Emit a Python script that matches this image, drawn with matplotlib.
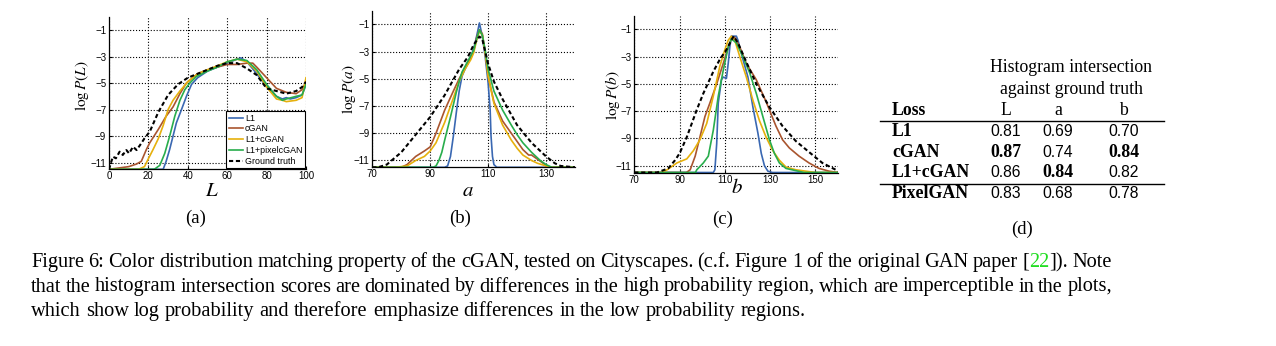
import matplotlib
matplotlib.use("Agg")
import matplotlib.pyplot as plt
from matplotlib.lines import Line2D

W, H = 1276, 346

plt.rcParams["mathtext.fontset"] = "stix"
plt.rcParams["font.family"] = "Liberation Sans"

barve = {
    "L1":           "#3a68b2",
    "cGAN":         "#a9552f",
    "L1+cGAN":      "#e6b00c",
    "L1+pixelcGAN": "#28ad4c",
    "Ground truth": "black",
}

# (a) L channel
L_l1_x = [0, 27.5, 29, 30.8, 32.5, 34.2, 36.8, 39.3, 41.9, 45, 50, 55, 60, 65, 67, 70, 75, 80, 85, 88, 90, 92, 95, 98, 100]
L_l1_y = [-11.5, -11.5, -10.9, -10.0, -9.0, -8.0, -7.0, -6.0, -5.1, -4.6, -4.1, -3.8, -3.5, -3.2, -3.1, -3.4, -4.3, -5.3, -6.0, -6.2, -6.1, -6.2, -6.1, -5.9, -5.1]
L_cgan_x = [0, 10, 14, 16.4, 19, 20.7, 25, 29, 32.5, 36, 39.3, 45, 50, 55, 60, 65, 70, 73, 75, 80, 85, 90, 95, 98, 100]
L_cgan_y = [-11.5, -11.3, -11.1, -10.9, -10.0, -9.5, -8.5, -7.5, -6.8, -5.8, -5.0, -4.3, -4.0, -3.8, -3.6, -3.6, -3.5, -3.5, -3.8, -4.6, -5.4, -5.7, -5.8, -5.5, -4.9]
L_l1cgan_x = [0, 15, 18, 20, 22.4, 25, 27.5, 30, 32.5, 36, 40, 45, 50, 55, 60, 65, 70, 75, 80, 85, 88, 90, 95, 98, 100]
L_l1cgan_y = [-11.5, -11.5, -11.3, -10.7, -10.0, -9.2, -8.2, -7.0, -6.3, -5.6, -4.9, -4.3, -4.0, -3.7, -3.4, -3.2, -3.4, -4.1, -5.3, -6.2, -6.3, -6.4, -6.3, -6.1, -4.6]
L_pix_x = [0, 23, 25.8, 28.3, 30.8, 33.4, 36, 38.5, 41, 44.4, 50, 55, 60, 65, 70, 75, 80, 85, 88, 90, 95, 98, 100]
L_pix_y = [-11.5, -11.5, -11.2, -10.3, -9.0, -7.5, -6.3, -5.5, -5.0, -4.5, -4.1, -3.8, -3.4, -3.2, -3.3, -4.0, -5.1, -6.0, -6.3, -6.2, -6.0, -5.9, -5.1]
L_gt_x = [0, 1, 2, 3.5, 5.4, 7, 8.8, 10.2, 12.2, 14, 16.4, 18, 20.7, 25, 30, 35, 40, 45, 50, 55, 60, 65, 70, 75, 80, 85, 90, 95, 98, 100]
L_gt_y = [-11.5, -11.0, -10.55, -10.67, -10.17, -10.42, -10.05, -10.3, -9.8, -10.05, -9.54, -9.17, -8.66, -7.2, -5.9, -5.1, -4.6, -4.3, -4.0, -3.7, -3.5, -3.5, -3.9, -4.4, -5.4, -5.6, -5.8, -5.6, -5.3, -4.9]

# (b) a channel
a_l1_x = [70, 95, 96, 97, 98, 99, 100, 101, 102, 103, 104, 105, 106, 107, 108, 109, 110, 110.7, 111, 111.5, 112, 113, 140]
a_l1_y = [-11.5, -11.5, -11.4, -10.7, -9.2, -7.5, -5.9, -4.8, -4.3, -3.9, -3.4, -2.8, -1.9, -0.9, -1.9, -3.4, -5.3, -7.3, -9.2, -10.7, -11.3, -11.5, -11.5]
a_cgan_x = [70, 80, 82, 85, 88, 90, 92, 95, 98, 100, 102, 104, 105, 106, 107, 108, 109, 110, 112, 115, 118, 120, 122, 124, 125, 127, 129, 130, 132, 140]
a_cgan_y = [-11.5, -11.5, -11.3, -10.7, -10.3, -10.0, -9.0, -7.3, -5.9, -5.0, -4.2, -3.4, -3.0, -2.0, -1.4, -1.7, -3.1, -4.8, -6.7, -8.1, -9.0, -9.6, -10.2, -10.6, -10.6, -10.9, -11.2, -11.4, -11.5, -11.5]
a_l1cgan_x = [70, 78, 82, 85, 88, 90, 92, 95, 98, 100, 102, 104, 105, 106, 107, 108, 109, 110, 112, 115, 118, 120, 122, 125, 127, 130, 132, 140]
a_l1cgan_y = [-11.5, -11.5, -11.4, -11.0, -10.7, -10.3, -9.7, -8.2, -6.4, -5.2, -4.3, -3.6, -3.1, -2.2, -1.5, -1.8, -3.1, -4.8, -6.8, -8.4, -9.5, -10.1, -10.6, -11.0, -11.2, -11.4, -11.5, -11.5]
a_pix_x = [70, 91, 92, 93, 94, 95, 97, 99, 100, 101, 103, 105, 106, 107, 108, 109, 110, 112, 115, 118, 120, 122, 125, 128, 130, 132, 140]
a_pix_y = [-11.5, -11.5, -11.4, -11.0, -10.4, -9.5, -7.8, -6.0, -5.2, -4.5, -3.7, -2.9, -2.1, -1.4, -1.8, -2.9, -4.3, -5.9, -7.3, -8.4, -9.1, -9.7, -10.4, -11.0, -11.3, -11.5, -11.5]
a_gt_x = [70, 72, 75, 80, 85, 90, 95, 100, 103, 105, 107, 108, 110, 112, 115, 120, 125, 130, 133, 135, 140]
a_gt_y = [-11.5, -11.5, -11.3, -10.4, -9.1, -7.8, -6.2, -4.3, -3.4, -2.5, -1.9, -2.1, -3.9, -5.2, -6.5, -8.4, -9.7, -10.7, -11.2, -11.4, -11.5]

# (c) b channel
b_l1_x = [70, 104.9, 105.6, 106.4, 107.1, 108.5, 109.3, 110.7, 111.5, 112.2, 112.9, 115.1, 115.8, 118, 120.2, 122.4, 124.6, 126.1, 127.5, 129, 131, 160]
b_l1_y = [-11.5, -11.5, -11.3, -9.4, -6.4, -4.7, -4.5, -4.6, -3.5, -2.3, -1.5, -1.5, -1.8, -3.2, -4.5, -6.7, -8.6, -10.1, -11.0, -11.4, -11.5, -11.5]
b_cgan_x = [70, 93, 94.7, 96.9, 99, 101.2, 103.4, 106.4, 109.3, 111.5, 112.9, 114.4, 116.6, 119.5, 123.9, 128.2, 132.6, 135.5, 138.5, 142.8, 147.2, 151.6, 156, 160]
b_cgan_y = [-11.5, -11.5, -11.3, -10.3, -8.9, -7.4, -6.4, -5.0, -3.5, -2.3, -1.7, -1.6, -2.3, -3.5, -4.7, -6.3, -8.1, -9.1, -9.7, -10.3, -10.8, -11.2, -11.4, -11.5]
b_l1cgan_x = [70, 82, 84.5, 88.8, 93.2, 96.1, 99, 102, 104.9, 107.8, 110, 111.5, 112.9, 114.4, 116.6, 119.5, 122.4, 125.3, 128.2, 131.2, 134.1, 137, 141.4, 150, 160]
b_l1cgan_y = [-11.5, -11.5, -11.3, -10.8, -10.5, -9.9, -9.1, -7.9, -5.9, -3.7, -2.5, -1.8, -1.5, -1.8, -3.0, -4.5, -6.2, -7.7, -8.9, -9.9, -10.6, -11.1, -11.3, -11.5, -11.5]
b_pix_x = [70, 97, 97.6, 100.5, 102.7, 104.9, 107.1, 109.3, 111.5, 112.9, 115.1, 118, 121, 123.9, 126.8, 129.7, 131.9, 134.1, 137, 145, 160]
b_pix_y = [-11.5, -11.5, -11.3, -10.8, -10.3, -8.4, -5.9, -4.0, -2.3, -1.7, -2.0, -3.0, -4.2, -5.7, -7.4, -9.1, -10.1, -10.8, -11.2, -11.5, -11.5]
b_gt_x = [70, 80, 85, 88, 90, 93.2, 97.6, 100.5, 104.9, 107.8, 110.7, 112.9, 113.9, 115.8, 119.5, 123.9, 129.7, 135.5, 141.4, 147.2, 153.1, 159, 160]
b_gt_y = [-11.5, -11.5, -11.2, -10.6, -10.1, -8.9, -6.9, -5.7, -4.1, -3.2, -2.5, -1.8, -1.5, -2.0, -3.4, -5.0, -6.7, -8.1, -9.2, -10.0, -10.8, -11.3, -11.4]

imena = ["L1", "cGAN", "L1+cGAN", "L1+pixelcGAN", "Ground truth"]

panels = [
    # axes box in pixels (left, top, right, bottom), xlim, xticks, series
    ((109, 16.7, 306, 169.3), (0, 100), [0, 20, 40, 60, 80, 100],
     [(L_l1_x, L_l1_y), (L_cgan_x, L_cgan_y), (L_l1cgan_x, L_l1cgan_y), (L_pix_x, L_pix_y), (L_gt_x, L_gt_y)]),
    ((372.3, 10.7, 575, 167.3), (70, 140), [70, 90, 110, 130],
     [(a_l1_x, a_l1_y), (a_cgan_x, a_cgan_y), (a_l1cgan_x, a_l1cgan_y), (a_pix_x, a_pix_y), (a_gt_x, a_gt_y)]),
    ((634.3, 15.7, 838, 172.5), (70, 160), [70, 90, 110, 130, 150],
     [(b_l1_x, b_l1_y), (b_cgan_x, b_cgan_y), (b_l1cgan_x, b_l1cgan_y), (b_pix_x, b_pix_y), (b_gt_x, b_gt_y)]),
]

ylabels = [r"$\log P(L)$", r"$\log P(a)$", r"$\log P(b)$"]
ylabel_pos = [(82, 86), (349, 89), (613, 95)]
xlabels = [r"$L$", r"$a$", r"$b$"]
xlabel_pos = [(212, 190), (468, 190), (737, 188)]
crke = ["(a)", "(b)", "(c)"]
crke_pos = [(196, 218), (460, 218), (723, 219)]

fig = plt.figure(figsize=(W / 100, H / 100), dpi=100)


def fx(x):
    return x / W


def fy(y):
    return 1 - y / H


for i, (box, xlim, xticks, serije) in enumerate(panels):
    l, t, r, b = box
    ax = fig.add_axes([fx(l), fy(b), fx(r - l), (b - t) / H])
    for ime, (xs, ys) in zip(imena, serije):
        if ime == "Ground truth":
            ax.plot(xs, ys, color="black", linewidth=1.5, linestyle=(0, (2, 1.3)), label=ime)
        else:
            ax.plot(xs, ys, color=barve[ime], linewidth=1.2, label=ime)
    ax.set_xlim(*xlim)
    ax.set_ylim(-11.5, 0)
    ax.set_xticks(xticks)
    ax.set_yticks([-1, -3, -5, -7, -9, -11])
    ax.grid(True, linestyle=":", color="black", linewidth=0.8)
    ax.tick_params(direction="in", length=2.5, width=0.8, labelsize=7, pad=1.5)
    ax.tick_params(axis="y", pad=2)
    ax.spines["top"].set_visible(False)
    ax.spines["right"].set_visible(False)
    for s in ("left", "bottom"):
        ax.spines[s].set_linewidth(0.9)
    if i == 0:
        leg = ax.legend(loc="lower right", bbox_to_anchor=(1.0, 0.0), fontsize=6.4,
                        handlelength=1.6, handletextpad=0.2, labelspacing=0.2,
                        borderpad=0.3, borderaxespad=0.1, fancybox=False, framealpha=1)
        leg.get_frame().set_edgecolor("black")
        leg.get_frame().set_linewidth(0.8)

    fig.text(fx(ylabel_pos[i][0]), fy(ylabel_pos[i][1]), ylabels[i], rotation=90,
             ha="center", va="center", fontsize=11)
    fig.text(fx(xlabel_pos[i][0]), fy(xlabel_pos[i][1]), xlabels[i],
             ha="center", va="center", fontsize=15)
    fig.text(fx(crke_pos[i][0]), fy(crke_pos[i][1]), crke[i], ha="center", va="center",
             fontsize=13.5, family="Liberation Serif")

# (d) table
tab_glava = ["Loss", "L", "a", "b"]
tab_vrstice = ["L1", "cGAN", "L1+cGAN", "PixelGAN"]
tab_vrednosti = [
    [0.81, 0.69, 0.70],
    [0.87, 0.74, 0.84],
    [0.86, 0.84, 0.82],
    [0.83, 0.68, 0.78],
]
tab_krepko = [
    [False, False, False],
    [True, False, True],
    [False, True, False],
    [False, False, False],
]

col_x = [1006, 1058, 1123.5]
row_base = [136, 156.5, 177.5, 198.5]
serif = "Liberation Serif"
fs_tab = 12.8

fig.text(fx(1071), fy(72.5), "Histogram intersection", ha="center", va="baseline", fontsize=fs_tab, family=serif)
fig.text(fx(1071), fy(94), "against ground truth", ha="center", va="baseline", fontsize=fs_tab, family=serif)
fig.text(fx(892), fy(115), tab_glava[0], ha="left", va="baseline", fontsize=fs_tab, family=serif, weight="bold")
for j in range(3):
    fig.text(fx(col_x[j]), fy(115), tab_glava[j + 1], ha="center", va="baseline", fontsize=fs_tab, family=serif)
for k, ime in enumerate(tab_vrstice):
    fig.text(fx(892), fy(row_base[k]), ime, ha="left", va="baseline", fontsize=fs_tab, family=serif, weight="bold")
    for j in range(3):
        if tab_krepko[k][j]:
            fig.text(fx(col_x[j]), fy(row_base[k]), f"{tab_vrednosti[k][j]:.2f}", ha="center", va="baseline",
                     fontsize=fs_tab, family=serif, weight="bold")
        else:
            fig.text(fx(col_x[j]), fy(row_base[k]), f"{tab_vrednosti[k][j]:.2f}", ha="center", va="baseline",
                     fontsize=11.3)
for yy in (121, 184.3):
    fig.add_artist(Line2D([fx(880), fx(1164)], [fy(yy), fy(yy)], color="black", linewidth=1.0,
                          transform=fig.transFigure))
fig.text(fx(1022), fy(229), "(d)", ha="center", va="center", fontsize=13.5, family=serif)

# caption, justified by hand
napis = [
    "Figure 6: Color distribution matching property of the cGAN, tested on Cityscapes. (c.f. Figure 1 of the original GAN paper [22]). Note",
    "that the histogram intersection scores are dominated by differences in the high probability region, which are imperceptible in the plots,",
    "which show log probability and therefore emphasize differences in the low probability regions.",
]
napis_y = [267, 291.5, 316]
fs_nap = 14.7
renderer = fig.canvas.get_renderer()


def kosi(beseda):
    if beseda == "[22]).":
        return [("[", "black"), ("22", "#22dd22"), ("]).", "black")]
    return [(beseda, "black")]


def sirina(s):
    t = fig.text(0, 0, s, fontsize=fs_nap, family=serif)
    w = t.get_window_extent(renderer).width
    t.remove()
    return w


for n, (vrstica, yy) in enumerate(zip(napis, napis_y)):
    besede = vrstica.split(" ")
    sirine = [sum(sirina(s) for s, _ in kosi(b)) for b in besede]
    if n < len(napis) - 1:
        presledek = (1112 - 31 - sum(sirine)) / (len(besede) - 1)
    else:
        presledek = sirina("a b") - sirina("a") - sirina("b")
    x = 31
    for b, w in zip(besede, sirine):
        xx = x
        for s, c in kosi(b):
            fig.text(fx(xx), fy(yy), s, ha="left", va="baseline", fontsize=fs_nap, family=serif, color=c)
            xx += sirina(s)
        x += w + presledek

fig.savefig("out.png", dpi=100)
